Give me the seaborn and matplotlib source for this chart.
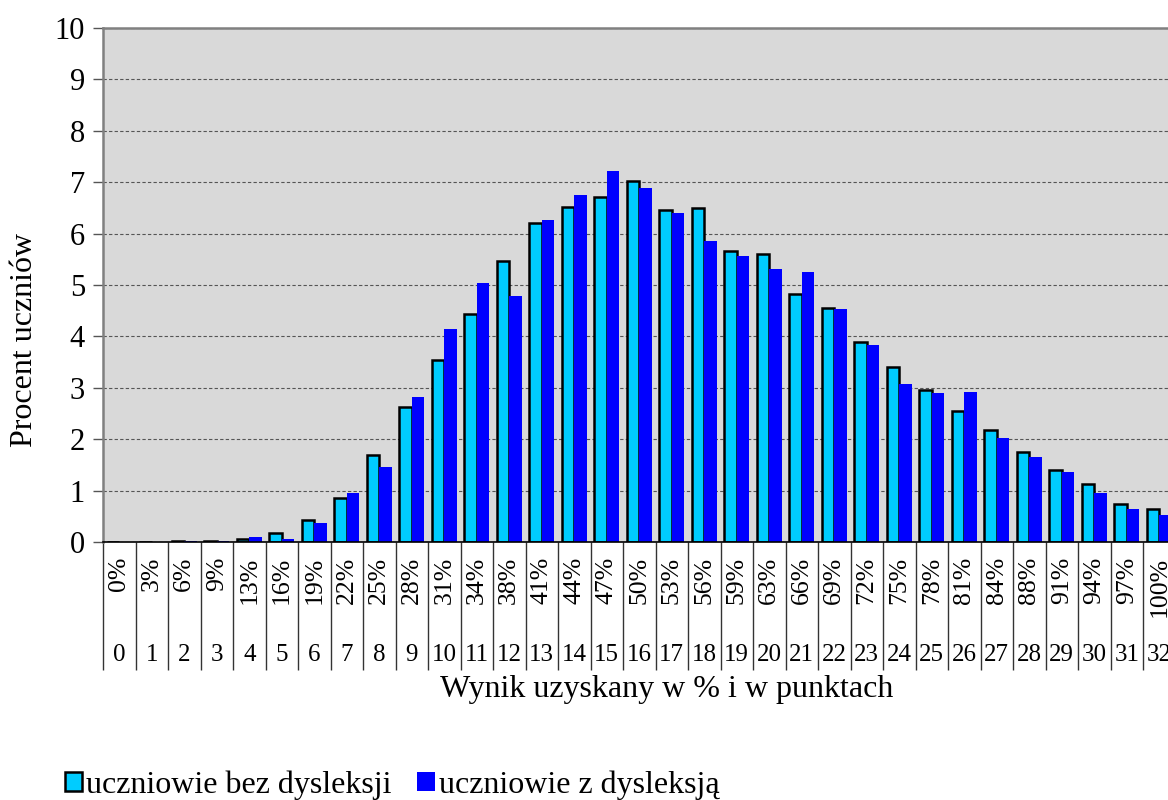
import matplotlib
matplotlib.use("Agg")
import matplotlib.pyplot as plt
import seaborn as sns
import pandas as pd
from matplotlib.patches import Patch

points = list(range(33))
pct_labels = ["0%", "3%", "6%", "9%", "13%", "16%", "19%", "22%", "25%", "28%", "31%",
              "34%", "38%", "41%", "44%", "47%", "50%", "53%", "56%", "59%", "63%", "66%",
              "69%", "72%", "75%", "78%", "81%", "84%", "88%", "91%", "94%", "97%", "100%"]
bez_dysleksji = [0, 0, 0.02, 0.02, 0.06, 0.17, 0.43, 0.85, 1.69, 2.62, 3.55, 4.44, 5.46,
                 6.20, 6.51, 6.71, 7.02, 6.45, 6.50, 5.67, 5.60, 4.83, 4.55, 3.90, 3.41,
                 2.96, 2.55, 2.17, 1.75, 1.40, 1.13, 0.73, 0.65]
z_dysleksja = [0, 0, 0.02, 0.02, 0.09, 0.05, 0.36, 0.96, 1.46, 2.83, 4.14, 5.04, 4.79,
               6.26, 6.76, 7.22, 6.88, 6.41, 5.86, 5.57, 5.32, 5.26, 4.54, 3.83, 3.08,
               2.89, 2.92, 2.02, 1.65, 1.37, 0.96, 0.65, 0.52]
series_names = ["uczniowie bez dysleksji", "uczniowie z dysleksją"]
colors = ["#00CCFF", "#0000FF"]

df = pd.DataFrame({
    "pkt": [str(p) for p in points] * 2,
    "val": bez_dysleksji + z_dysleksja,
    "grp": [series_names[0]] * 33 + [series_names[1]] * 33,
})

sns.set_theme(style="white")
plt.rcParams["font.family"] = ["Liberation Serif", "DejaVu Serif"]
plt.rcParams["text.color"] = "black"
plt.rcParams["xtick.color"] = "black"
plt.rcParams["ytick.color"] = "black"
plt.rcParams["axes.labelcolor"] = "black"

fig = plt.figure(figsize=(11.68, 8), dpi=100)
ax = fig.add_axes([103 / 1168, 258 / 800, 1072.5 / 1168, 514 / 800])
ax.set_facecolor("#D9D9D9")

sns.barplot(data=df, x="pkt", y="val", hue="grp", order=[str(p) for p in points],
            hue_order=series_names, palette=colors, saturation=1, width=0.77,
            ax=ax, legend=False)

for p in ax.containers[0]:
    p.set_edgecolor("black")
    p.set_linewidth(1.8)
for p in ax.containers[1]:
    p.set_edgecolor("none")

ax.set_xlim(-0.5, 32.5)
ax.set_ylim(0, 10)
ax.set_yticks(range(0, 11))
ax.yaxis.grid(True, linestyle=(0, (3, 2)), color="#555555", linewidth=0.8)
ax.set_axisbelow(True)
ax.tick_params(axis="y", direction="out", length=7, width=1, color="#555555",
               labelsize=22, labelcolor="black", pad=6, left=True)
ax.set_xticks(range(33))
ax.set_xticklabels([""] * 33)
ax.tick_params(axis="x", length=0)
ax.set_xlabel("")
ax.set_ylabel("")

for s in ["left", "top"]:
    ax.spines[s].set_color("#808080")
    ax.spines[s].set_linewidth(1.8)
ax.spines["bottom"].set_color("black")
ax.spines["bottom"].set_linewidth(1.2)
ax.spines["right"].set_visible(False)

xt = ax.get_xaxis_transform()
ax.vlines([k - 0.5 for k in range(34)], -0.249, 0, transform=xt, colors="#333333",
          linewidth=1, clip_on=False)
for i, (pl, pt) in enumerate(zip(pct_labels, points)):
    ax.text(i, -0.029, pl, transform=xt, rotation=90, ha="center", va="top",
            fontsize=18.5, color="black")
    ax.text(i, -0.22, str(pt), transform=xt, ha="center", va="center", fontsize=18,
            color="black")

fig.text(25 / 1168, 1 - 340 / 800, "Procent uczniów", rotation=90, ha="center",
         va="center", fontsize=23, color="black")
fig.text(667 / 1168, 1 - 690 / 800, "Wynik uzyskany w % i w punktach", ha="center",
         va="center", fontsize=23, color="black")

handles = [Patch(facecolor=colors[0], edgecolor="black", linewidth=1.8),
           Patch(facecolor=colors[1], edgecolor="none")]
fig.legend(handles, series_names, loc="lower left", bbox_to_anchor=(52 / 1168, -0.016),
           ncol=2, frameon=False, fontsize=23, handlelength=0.55, handleheight=0.55,
           handletextpad=0.12, columnspacing=0.8, borderaxespad=0, labelcolor="black")

fig.savefig("out.png", dpi=100)
